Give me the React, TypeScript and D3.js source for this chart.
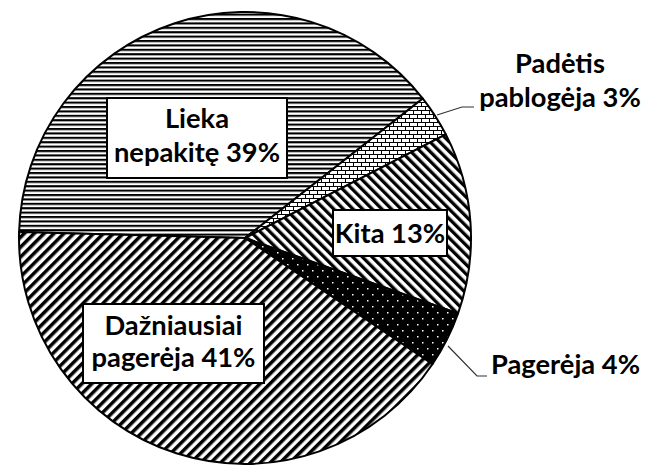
import React from "react";
import * as d3 from "d3";

const categories = ["Lieka nepakitę", "Padėtis pablogėja", "Kita", "Pagerėja", "Dažniausiai pagerėja"];
const values = [39, 3, 13, 4, 41];
const patterns = ["horiz", "brick", "fwd", "dots", "back"];

const W = 645;
const H = 468;
const CX = 245;
const CY = 238;
const R = 226;
const START = (-88.5 * Math.PI) / 180;

const FONT = "Lato, 'Open Sans', sans-serif";
const FS = 27.3;

export default function App() {
  const pie = d3
    .pie<number>()
    .sort(null)
    .value((d) => d)
    .startAngle(START)
    .endAngle(START + 2 * Math.PI);
  const arcs = pie(values);
  const arc = d3.arc<d3.PieArcDatum<number>>().innerRadius(0).outerRadius(R);

  return (
    <svg width={W} height={H} style={{ position: "absolute", left: 0, top: 0 }}>
      <defs>
        <pattern id="horiz" width={8} height={4.4} patternUnits="userSpaceOnUse">
          <rect width={8} height={4.4} fill="#fff" />
          <rect y={0} width={8} height={2.1} fill="#000" />
        </pattern>
        <pattern id="back" width={7} height={7} patternUnits="userSpaceOnUse" patternTransform="rotate(45)">
          <rect width={7} height={7} fill="#fff" />
          <rect x={0} width={3.5} height={7} fill="#000" />
        </pattern>
        <pattern id="fwd" width={6.8} height={6.8} patternUnits="userSpaceOnUse" patternTransform="rotate(-45)">
          <rect width={6.8} height={6.8} fill="#fff" />
          <rect x={0} width={3.3} height={6.8} fill="#000" />
        </pattern>
        <pattern id="dots" width={10} height={12} patternUnits="userSpaceOnUse">
          <rect width={10} height={12} fill="#000" />
          <rect x={2} y={2} width={1.5} height={1.5} fill="#fff" />
          <rect x={7} y={8} width={1.5} height={1.5} fill="#fff" />
        </pattern>
        <pattern id="brick" width={8} height={8} patternUnits="userSpaceOnUse">
          <rect width={8} height={8} fill="#fff" />
          <rect x={0} y={0} width={8} height={1} fill="#000" />
          <rect x={0} y={4} width={8} height={1} fill="#000" />
          <rect x={0} y={0} width={1} height={4} fill="#000" />
          <rect x={4} y={4} width={1} height={4} fill="#000" />
        </pattern>
      </defs>
      <g transform={`translate(${CX},${CY})`}>
        {arcs.map((a, i) => (
          <path
            key={categories[i]}
            d={arc(a) || ""}
            fill={`url(#${patterns[i]})`}
            stroke="#000"
            strokeWidth={2}
            strokeLinejoin="round"
          />
        ))}
      </g>

      {/* leader lines */}
      <polyline points="437,115 462,107 474,107" fill="none" stroke="#333" strokeWidth={1.2} />
      <polyline points="448,346 477,376 487,376" fill="none" stroke="#333" strokeWidth={1.2} />

      {/* label boxes */}
      <rect x={107} y={98} width={180} height={80} fill="#fff" stroke="#000" strokeWidth={2} />
      <rect x={83} y={304} width={181} height={79} fill="#fff" stroke="#000" strokeWidth={2} />
      <rect x={333} y={210} width={114} height={46} fill="#fff" stroke="#000" strokeWidth={2} />

      <g fontFamily={FONT} fontWeight={700} fontSize={FS} fill="#000" textAnchor="middle">
        <text x={197} y={128}>Lieka</text>
        <text x={197} y={162}>{`nepakitę ${values[0]}%`}</text>
        <text x={173.5} y={335}>Dažniausiai</text>
        <text x={173.5} y={367}>{`pagerėja ${values[4]}%`}</text>
        <text x={390} y={243}>{`${categories[2]} ${values[2]}%`}</text>
        <text x={560} y={73}>Padėtis</text>
        <text x={560} y={107}>{`pablogėja ${values[1]}%`}</text>
        <text x={491} y={374} textAnchor="start">{`${categories[3]} ${values[3]}%`}</text>
      </g>
    </svg>
  );
}
